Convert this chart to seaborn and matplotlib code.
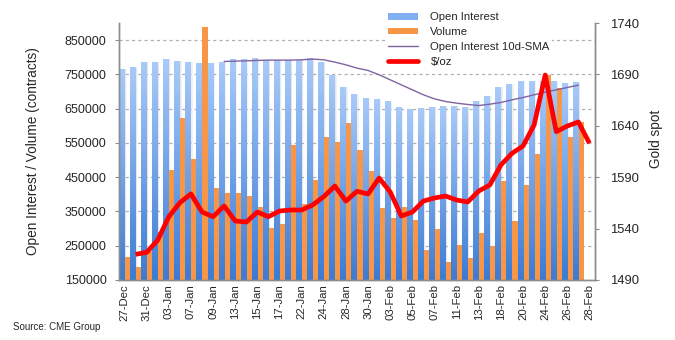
import numpy as np
import pandas as pd
import matplotlib
matplotlib.use("Agg")
import matplotlib.pyplot as plt
import seaborn as sns
from matplotlib.lines import Line2D
from matplotlib.patches import Patch
from matplotlib.colors import LinearSegmentedColormap

# Trading days, 27-Dec to 28-Feb
dates = ["27-Dec", "30-Dec", "31-Dec", "02-Jan", "03-Jan", "06-Jan", "07-Jan", "08-Jan",
         "09-Jan", "10-Jan", "13-Jan", "14-Jan", "15-Jan", "16-Jan", "17-Jan", "21-Jan",
         "22-Jan", "23-Jan", "24-Jan", "27-Jan", "28-Jan", "29-Jan", "30-Jan", "31-Jan",
         "03-Feb", "04-Feb", "05-Feb", "06-Feb", "07-Feb", "10-Feb", "11-Feb", "12-Feb",
         "13-Feb", "14-Feb", "18-Feb", "19-Feb", "20-Feb", "21-Feb", "24-Feb", "25-Feb",
         "26-Feb", "27-Feb", "28-Feb"]

# COMEX gold futures open interest (contracts)
open_interest = [766000, 772000, 787000, 787000, 795500, 789700, 787000, 784000,
                 784000, 787000, 795500, 795500, 798500, 792600, 792600, 792600,
                 792600, 798500, 787000, 748800, 713800, 693300, 681600, 678700,
                 672900, 655300, 649500, 652400, 655300, 658300, 658300, 655300,
                 672900, 687500, 713800, 722500, 731300, 731300, 731300, 731300,
                 725500, 728400, np.nan]

# Daily traded volume (contracts)
volume = [217000, 188000, 235000, 290000, 471000, 623000, 503500, 887000,
          418700, 404100, 404100, 395400, 363200, 301900, 313600, 544400,
          372000, 442100, 567700, 553100, 608600, 529700, 468400, 360300,
          331100, 363200, 325300, 237600, 299000, 202600, 252200, 214300,
          287300, 249300, 439200, 322300, 427500, 518000, 747000, 710900,
          567700, 611500, np.nan]

# 10-day simple moving average of open interest
oi_sma10 = [np.nan] * 9 + [
    787800, 788700, 789700, 790700, 791700, 791700, 791700, 792600,
    794600, 792600, 785800, 778000, 768300, 761500, 748800, 734200,
    719600, 705000, 690400, 678700, 670900, 666100, 662200, 659200,
    663100, 668000, 675800, 682600, 690400, 698200, 705000, 711800,
    718600] + [np.nan]

# Gold spot, $/oz
gold = [np.nan, 1515.0, 1516.9, 1528.9, 1551.6, 1565.2, 1573.7, 1556.1,
        1551.6, 1562.0, 1547.4, 1546.4, 1556.1, 1551.6, 1557.1, 1558.1,
        1558.1, 1563.0, 1571.1, 1581.4, 1566.8, 1576.3, 1573.7, 1589.2,
        1575.6, 1552.3, 1556.1, 1566.8, 1569.8, 1571.7, 1567.8, 1565.9,
        1576.6, 1582.4, 1601.9, 1613.2, 1620.4, 1640.8, 1689.4, 1634.3,
        1639.8, 1643.7, 1623.0]

left_ticks = [150000, 250000, 350000, 450000, 550000, 650000, 750000, 850000]
right_ticks = [1490, 1540, 1590, 1640, 1690, 1740]

sns.set_style("white")
plt.rcParams["font.family"] = ["Liberation Sans", "DejaVu Sans"]

BLUE_TOP, BLUE_BOTTOM = "#a9cbfa", "#3b7bd4"
ORANGE = "#f79646"
PURPLE = "#8064a2"
RED = "#ff0000"
GRID = "#b0b0b0"
SPINE = "#8c8c8c"

bars = pd.DataFrame({
    "date": dates * 2,
    "series": ["Open Interest"] * len(dates) + ["Volume"] * len(dates),
    "contracts": list(open_interest) + list(volume),
})

fig = plt.figure(figsize=(6.75, 3.4), dpi=100)
ax = fig.add_axes([119 / 675, 1 - 280 / 340, 476 / 675, 257 / 340])

sns.barplot(data=bars, x="date", y="contracts", hue="series", order=dates,
            hue_order=["Open Interest", "Volume"],
            palette={"Open Interest": BLUE_BOTTOM, "Volume": ORANGE},
            width=1.0, gap=0, dodge=True, legend=False, errorbar=None,
            saturation=1, linewidth=0, ax=ax, zorder=2)

ax.set_ylim(150000, 900000)
ax.set_xlim(-0.5, len(dates) - 0.5)

# vertical gradient fill + faint shadow on the open-interest columns
cmap = LinearSegmentedColormap.from_list("oi", [BLUE_BOTTOM, BLUE_TOP])
grad = np.linspace(0, 1, 256).reshape(-1, 1)
for p in ax.containers[0].patches:
    x0, w, h = p.get_x(), p.get_width(), p.get_height()
    if not np.isfinite(h) or h <= 0:
        continue
    for k, a in enumerate([0.06, 0.035, 0.015]):
        ax.bar(x0 + w + 0.05 * k, h - 150000, width=0.1, bottom=150000,
               align="edge", color="#000000", alpha=a, linewidth=0, zorder=1)
    im = ax.imshow(grad, cmap=cmap, extent=[x0, x0 + w, 150000, h],
                   origin="lower", aspect="auto", zorder=2.1, interpolation="bilinear")
    im.set_clip_path(p)
    p.set_facecolor("none")

ax.set_ylim(150000, 900000)
ax.set_xlim(-0.5, len(dates) - 0.5)

xs = np.arange(len(dates))
sns.lineplot(x=xs, y=oi_sma10, color=PURPLE, linewidth=1.0, ax=ax, zorder=4)

ax.set_yticks(left_ticks)
ax.set_yticklabels([str(v) for v in left_ticks], fontsize=9)
ax.yaxis.grid(True, linestyle=(0, (2.5, 2.5)), color=GRID, linewidth=0.9)
ax.xaxis.grid(False)
ax.set_axisbelow(True)

ax.set_xticks(xs[::2])
ax.set_xticklabels(dates[::2], rotation=90, fontsize=8.2)
ax.set_xticks(np.arange(-0.5, len(dates), 2), minor=True)
ax.tick_params(axis="x", which="major", length=0, pad=3)
ax.tick_params(axis="x", which="minor", length=3.5, color=SPINE, width=0.8)
ax.tick_params(axis="y", length=3, color=SPINE, width=0.8, pad=6)
ax.set_xlabel("")
ax.set_ylabel("Open Interest / Volume (contracts)", fontsize=9.8)
ax.yaxis.set_label_coords(-0.166, 0.5)

ax2 = ax.twinx()
sns.lineplot(x=xs, y=gold, color=RED, linewidth=3.4, ax=ax2, zorder=5)
for line in ax2.lines:
    line.set_solid_joinstyle("round")
    line.set_solid_capstyle("butt")
ax2.set_ylim(1490, 1740)
ax2.set_yticks(right_ticks)
ax2.set_yticklabels([str(v) for v in right_ticks], fontsize=9.4)
ax2.tick_params(axis="y", length=3, color=SPINE, width=0.8, pad=8)
ax2.set_ylabel("Gold spot", fontsize=9.8)
ax2.yaxis.set_label_coords(1.113, 0.55)
ax2.grid(False)

for a in (ax, ax2):
    a.spines["top"].set_visible(False)
    for side in ("left", "right", "bottom"):
        a.spines[side].set_color(SPINE)
        a.spines[side].set_linewidth(1.0)

handles = [
    Patch(facecolor="#80b0f2", edgecolor="none"),
    Patch(facecolor=ORANGE, edgecolor="none"),
    Line2D([], [], color=PURPLE, linewidth=1.0),
    Line2D([], [], color=RED, linewidth=3.4),
]
labels = ["Open Interest", "Volume", "Open Interest 10d-SMA", "$/oz"]
leg = fig.legend(handles, labels, loc="upper left",
                 bbox_to_anchor=(386 / 675, 1 - 10 / 340), frameon=True,
                 fontsize=8.2, handlelength=2.6, handleheight=0.55,
                 handletextpad=1.1, labelspacing=0.42, borderpad=0.2,
                 borderaxespad=0)
leg.get_frame().set_facecolor("white")
leg.get_frame().set_edgecolor("none")
leg.get_frame().set_alpha(1)

fig.text(13 / 675, 1 - 327 / 340, "Source: CME Group", fontsize=7, va="center", ha="left")

fig.savefig("out.png", dpi=100)
